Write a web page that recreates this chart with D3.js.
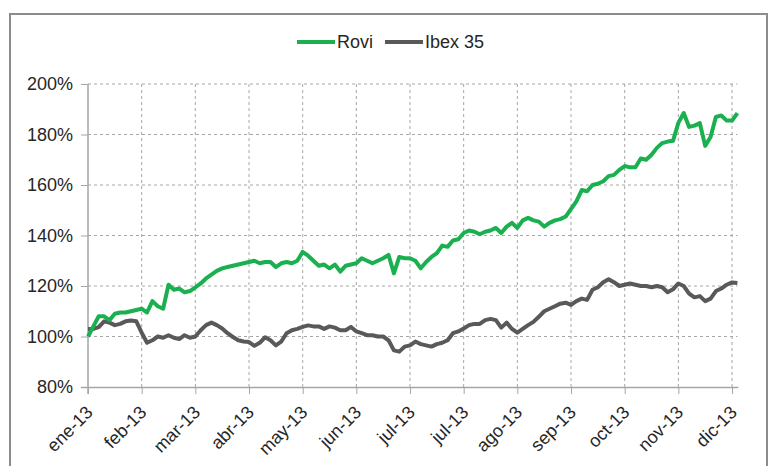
<html>
<head>
  <script src="https://d3js.org/d3.v7.min.js"></script>
  <style>
    body { margin: 0; background: #fff; }
    text { font-family: "Liberation Sans", Arial, sans-serif; fill: #262626; }
  </style>
</head>
<body>
  <svg id="chart" width="770" height="466"></svg>

  <script>
    // x labels, one every 10 points
    let months = ["ene-13", "feb-13", "mar-13", "abr-13", "may-13", "jun-13", "jul-13",
                  "jul-13", "ago-13", "sep-13", "oct-13", "nov-13", "dic-13"];
    let yTicks = [80, 100, 120, 140, 160, 180, 200];

    // values in %
    let rovi = [100, 104, 108, 108, 106.5, 109, 109.5, 109.5, 110, 110.5,
                111, 109.5, 114, 112, 111, 120.5, 118.5, 119, 117.5, 118,
                119.5, 121, 123, 124.5, 126, 127, 127.5, 128, 128.5, 129,
                129.5, 130, 129, 129.5, 129.5, 127.5, 129, 129.5, 129, 130,
                133.5, 132, 130, 128, 128.5, 127, 128.5, 125.7, 128, 128.5,
                129, 131, 130, 129, 130, 131, 132.3, 125, 131.5, 131,
                131, 130, 127, 129.5, 131.5, 133, 136, 135.5, 138, 138.5,
                141, 142, 141.5, 140.5, 141.5, 142, 143, 141, 143.5, 145,
                143, 146, 147, 146, 145.5, 143.5, 145, 146, 146.5, 147.5,
                150.5, 153.5, 158, 157.5, 160, 160.5, 161.5, 163.5, 164, 166,
                167.5, 167, 167, 170.5, 170, 172, 174.7, 176.6, 177.2, 177.5,
                184.6, 188.5, 183, 183.5, 184.5, 175.5, 179, 187, 187.5, 185.5,
                185.5, 188.5];

    let ibex = [103, 103, 103.7, 106, 105.5, 104.5, 105, 106, 106.3, 106,
                101.5, 97.5, 98.5, 100, 99.5, 100.5, 99.5, 99, 100.5, 99.5,
                100, 102.5, 104.5, 105.5, 104.5, 103.2, 101.3, 99.8, 98.5, 98,
                97.8, 96.3, 97.5, 99.7, 98.5, 96.5, 98, 101.3, 102.5, 103,
                103.8, 104.4, 104, 104, 103, 104, 103.5, 102.5, 102.5, 103.8,
                102, 101.3, 100.5, 100.5, 100, 100, 98.5, 94.5, 94, 96,
                96.5, 98, 97, 96.5, 96, 97, 97.5, 98.5, 101.3, 102,
                103.2, 104.5, 105, 105, 106.5, 107, 106.5, 103.5, 105.5, 103,
                101.5, 103, 104.5, 105.8, 107.8, 110, 111, 112, 113, 113.4,
                112.5, 114, 115, 114.5, 118.5, 119.5, 121.5, 122.7, 121.5, 120,
                120.5, 121, 120.5, 120, 120, 119.5, 120, 119.5, 117.5, 118.7,
                121, 120, 117, 115.5, 116, 114, 115, 118, 119, 120.5,
                121.4, 121.2];

    let svg = d3.select("#chart");

    // outer frame
    svg.append("rect")
      .attr("x", 10).attr("y", 14)
      .attr("width", 757).attr("height", 470)
      .attr("fill", "none")
      .attr("stroke", "#8c8c8c")
      .attr("stroke-width", 2);

    let pLeft = 88, pRight = 737.4, pTop = 84, pBottom = 387;

    let x = d3.scaleLinear().domain([0, rovi.length - 1]).range([pLeft, pRight]);
    let y = d3.scaleLinear().domain([80, 200]).range([pBottom, pTop]);
    let tickIdx = months.map((m, i) => i * 10);

    // horizontal grid + y labels
    let yAxis = svg.append("g")
      .attr("transform", `translate(${pLeft},0)`)
      .call(d3.axisLeft(y).tickValues(yTicks).tickSize(7).tickPadding(8).tickFormat(d => d + "%"));
    yAxis.select(".domain").remove();
    yAxis.selectAll("line").attr("stroke", "#a6a6a6");
    yAxis.selectAll("text").attr("font-size", 18).attr("fill", "#262626");

    svg.append("g").selectAll("line").data(yTicks.slice(1)).join("line")
      .attr("x1", pLeft).attr("x2", pRight)
      .attr("y1", d => y(d)).attr("y2", d => y(d))
      .attr("stroke", "#a6a6a6")
      .attr("stroke-dasharray", "3,3");

    // vertical grid
    svg.append("g").selectAll("line").data(tickIdx.slice(1)).join("line")
      .attr("x1", d => x(d)).attr("x2", d => x(d))
      .attr("y1", pTop).attr("y2", pBottom)
      .attr("stroke", "#a6a6a6")
      .attr("stroke-dasharray", "3,3");

    // x axis
    let xAxis = svg.append("g")
      .attr("transform", `translate(0,${pBottom})`)
      .call(d3.axisBottom(x).tickValues(tickIdx).tickSize(7).tickFormat((d, i) => months[i]));
    xAxis.select(".domain").attr("stroke", "#a6a6a6").attr("stroke-width", 1.5)
      .attr("d", `M${pLeft - 7},0.5H${pRight + 1}`);
    xAxis.selectAll("line").attr("stroke", "#a6a6a6");
    xAxis.selectAll("text")
      .attr("font-size", 18)
      .attr("fill", "#262626")
      .attr("text-anchor", "end")
      .attr("transform", "translate(1,22) rotate(-45)")
      .attr("dy", "0.35em")
      .attr("y", 0);

    // y axis line
    svg.append("line")
      .attr("x1", pLeft).attr("x2", pLeft)
      .attr("y1", pTop).attr("y2", pBottom + 7)
      .attr("stroke", "#a6a6a6").attr("stroke-width", 1.5);

    // series
    let line = d3.line().x((d, i) => x(i)).y(d => y(d));

    svg.append("path").datum(ibex)
      .attr("d", line)
      .attr("fill", "none")
      .attr("stroke", "#595959")
      .attr("stroke-width", 4)
      .attr("stroke-linejoin", "round");

    svg.append("path").datum(rovi)
      .attr("d", line)
      .attr("fill", "none")
      .attr("stroke", "#1bb04f")
      .attr("stroke-width", 4)
      .attr("stroke-linejoin", "round");

    // legend
    let legend = [["Rovi", "#1bb04f"], ["Ibex 35", "#595959"]];
    let lg = svg.append("g").attr("transform", "translate(297,42)");
    let offsets = [0, 88];
    legend.forEach((d, i) => {
      let g = lg.append("g").attr("transform", `translate(${offsets[i]},0)`);
      g.append("line").attr("x1", 0).attr("x2", 38).attr("y1", 0).attr("y2", 0)
        .attr("stroke", d[1]).attr("stroke-width", 4);
      g.append("text").attr("x", 40).attr("y", 0).attr("dy", "0.35em")
        .attr("font-size", 18).text(d[0]);
    });
  </script>
</body>
</html>
